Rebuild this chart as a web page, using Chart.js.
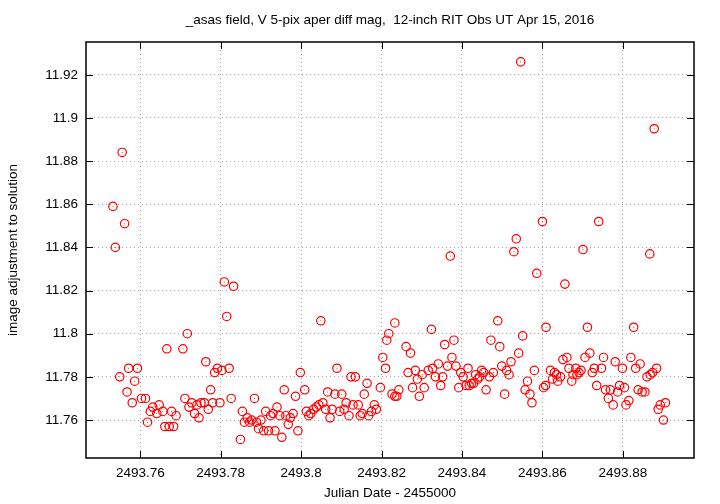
<!DOCTYPE html>
<html>
<head>
<meta charset="utf-8">
<title>asas field diff mag</title>
<script src="https://cdn.jsdelivr.net/npm/chart.js@4.4.1/dist/chart.umd.min.js"></script>
<style>
  html, body { margin: 0; padding: 0; background: #fff; }
  canvas { display: block; }
</style>
</head>
<body>
<canvas id="magChart" width="720" height="504"></canvas>
<script>
// Julian Date - 2455000
var julianDates = [
  2493.7532, 2493.7538, 2493.7549, 2493.7555, 2493.7561, 2493.7567, 2493.7571, 2493.7580, 2493.7586, 2493.7593,
  2493.7603, 2493.7613, 2493.7618, 2493.7625, 2493.7631, 2493.7641, 2493.7647, 2493.7656, 2493.7661, 2493.7666,
  2493.7672, 2493.7678, 2493.7683, 2493.7689, 2493.7706, 2493.7711, 2493.7717, 2493.7721, 2493.7728, 2493.7735,
  2493.7741, 2493.7746, 2493.7751, 2493.7759, 2493.7763, 2493.7769, 2493.7775, 2493.7780, 2493.7785, 2493.7792,
  2493.7798, 2493.7803, 2493.7809, 2493.7815, 2493.7821, 2493.7826, 2493.7832, 2493.7849, 2493.7854, 2493.7859,
  2493.7866, 2493.7872, 2493.7877, 2493.7884, 2493.7889, 2493.7894, 2493.7900, 2493.7907, 2493.7912, 2493.7919,
  2493.7924, 2493.7930, 2493.7935, 2493.7940, 2493.7947, 2493.7952, 2493.7958, 2493.7962, 2493.7968, 2493.7973,
  2493.7980, 2493.7986, 2493.7992, 2493.7998, 2493.8009, 2493.8013, 2493.8019, 2493.8024, 2493.8031, 2493.8038,
  2493.8044, 2493.8049, 2493.8054, 2493.8061, 2493.8066, 2493.8072, 2493.8077, 2493.8084, 2493.8089, 2493.8096,
  2493.8101, 2493.8107, 2493.8112, 2493.8119, 2493.8124, 2493.8129, 2493.8135, 2493.8142, 2493.8147, 2493.8152,
  2493.8157, 2493.8164, 2493.8168, 2493.8175, 2493.8182, 2493.8187, 2493.8197, 2493.8203, 2493.8210, 2493.8213,
  2493.8218, 2493.8226, 2493.8233, 2493.8233, 2493.8238, 2493.8243, 2493.8261, 2493.8266, 2493.8272, 2493.8277,
  2493.8284, 2493.8289, 2493.8294, 2493.8301, 2493.8306, 2493.8316, 2493.8324, 2493.8327, 2493.8334, 2493.8341,
  2493.8347, 2493.8352, 2493.8357, 2493.8364, 2493.8371, 2493.8375, 2493.8380, 2493.8385, 2493.8392, 2493.8397,
  2493.8403, 2493.8410, 2493.8415, 2493.8418, 2493.8424, 2493.8429, 2493.8434, 2493.8439, 2493.8444, 2493.8449,
  2493.8454, 2493.8460, 2493.8468, 2493.8472, 2493.8478, 2493.8489, 2493.8494, 2493.8499, 2493.8506, 2493.8511,
  2493.8517, 2493.8522, 2493.8529, 2493.8535, 2493.8541, 2493.8546, 2493.8551, 2493.8557, 2493.8563, 2493.8569,
  2493.8574, 2493.8580, 2493.8586, 2493.8600, 2493.8603, 2493.8608, 2493.8609, 2493.8620, 2493.8625, 2493.8630,
  2493.8635, 2493.8638, 2493.8645, 2493.8651, 2493.8656, 2493.8661, 2493.8666, 2493.8673, 2493.8676, 2493.8683,
  2493.8686, 2493.8691, 2493.8696, 2493.8701, 2493.8706, 2493.8712, 2493.8718, 2493.8724, 2493.8729, 2493.8735,
  2493.8740, 2493.8747, 2493.8752, 2493.8757, 2493.8764, 2493.8769, 2493.8776, 2493.8781, 2493.8787, 2493.8792,
  2493.8799, 2493.8804, 2493.8808, 2493.8815, 2493.8820, 2493.8827, 2493.8832, 2493.8838, 2493.8843, 2493.8848,
  2493.8855, 2493.8860, 2493.8867, 2493.8868, 2493.8874, 2493.8878, 2493.8884, 2493.8888, 2493.8893, 2493.8901,
  2493.8906
];

// image adjustment to solution (mag)
var imageAdjust = [
  11.859, 11.840, 11.780, 11.884, 11.851, 11.773, 11.784, 11.768, 11.778, 11.784,
  11.770, 11.770, 11.759, 11.764, 11.766, 11.763, 11.767, 11.764, 11.757, 11.793,
  11.757, 11.764, 11.757, 11.762, 11.793, 11.770, 11.800, 11.766, 11.768, 11.763,
  11.767, 11.761, 11.768, 11.768, 11.787, 11.765, 11.774, 11.768, 11.782, 11.784,
  11.768, 11.783, 11.824, 11.808, 11.784, 11.770, 11.822, 11.751, 11.764, 11.759,
  11.761, 11.759, 11.760, 11.770, 11.759, 11.756, 11.760, 11.755, 11.764, 11.755,
  11.762, 11.763, 11.755, 11.766, 11.762, 11.752, 11.774, 11.762, 11.758, 11.761,
  11.763, 11.771, 11.755, 11.782, 11.774, 11.764, 11.762, 11.763, 11.765, 11.766,
  11.767, 11.806, 11.768, 11.765, 11.773, 11.761, 11.765, 11.772, 11.784, 11.764,
  11.772, 11.765, 11.768, 11.762, 11.780, 11.767, 11.780, 11.767, 11.762, 11.763,
  11.772, 11.777, 11.762, 11.764, 11.767, 11.765, 11.775, 11.789, 11.784, 11.797,
  11.800, 11.772, 11.805, 11.771, 11.771, 11.774, 11.794, 11.782, 11.791, 11.775,
  11.783, 11.779, 11.771, 11.781, 11.775, 11.783, 11.802, 11.784, 11.780, 11.786,
  11.776, 11.780, 11.795, 11.785, 11.836, 11.789, 11.797, 11.785, 11.775, 11.782,
  11.780, 11.776, 11.784, 11.776, 11.777, 11.777, 11.781, 11.779, 11.780, 11.783,
  11.782, 11.774, 11.780, 11.797, 11.782, 11.806, 11.794, 11.785, 11.772, 11.783,
  11.781, 11.787, 11.838, 11.844, 11.791, 11.926, 11.799, 11.774, 11.778, 11.772,
  11.768, 11.783, 11.828, 11.852, 11.775, 11.776, 11.803, 11.783, 11.779, 11.782,
  11.781, 11.778, 11.780, 11.788, 11.823, 11.789, 11.784, 11.778, 11.781, 11.784,
  11.781, 11.782, 11.783, 11.839, 11.789, 11.803, 11.791, 11.782, 11.784, 11.776,
  11.852, 11.784, 11.789, 11.774, 11.770, 11.774, 11.767, 11.787, 11.773, 11.776,
  11.784, 11.775, 11.767, 11.769, 11.789, 11.803, 11.784, 11.774, 11.786, 11.773,
  11.773, 11.780, 11.837, 11.781, 11.782, 11.895, 11.784, 11.765, 11.767, 11.760,
  11.768
];

var xTicks = [2493.76, 2493.78, 2493.80, 2493.82, 2493.84, 2493.86, 2493.88];
var yTicks = [11.76, 11.78, 11.80, 11.82, 11.84, 11.86, 11.88, 11.90, 11.92];

var chartTitle = '_asas field, V 5-pix aper diff mag,  12-inch RIT Obs UT Apr 15, 2016';

var points = julianDates.map(function(jd, i) {
  return { x: jd, y: imageAdjust[i] };
});

function fmt(v) {
  return String(parseFloat(v.toFixed(2)));
}

// gnuplot-style frame, inward tics and the title over the plot area
var gnuplotFrame = {
  id: 'gnuplotFrame',
  afterDraw: function(chart) {
    var ctx = chart.ctx;
    var a = chart.chartArea;
    var xs = chart.scales.x, ys = chart.scales.y;
    ctx.save();
    ctx.strokeStyle = '#000';
    ctx.lineWidth = 1;
    ctx.beginPath();
    xTicks.forEach(function(v) {
      var px = Math.round(xs.getPixelForValue(v)) + 0.5;
      ctx.moveTo(px, a.bottom); ctx.lineTo(px, a.bottom - 7);
      ctx.moveTo(px, a.top); ctx.lineTo(px, a.top + 7);
    });
    yTicks.forEach(function(v) {
      var py = Math.round(ys.getPixelForValue(v)) + 0.5;
      ctx.moveTo(a.left, py); ctx.lineTo(a.left + 7, py);
      ctx.moveTo(a.right, py); ctx.lineTo(a.right - 7, py);
    });
    ctx.stroke();
    ctx.lineWidth = 1.5;
    ctx.strokeRect(a.left, a.top, a.right - a.left, a.bottom - a.top);
    ctx.fillStyle = '#000';
    ctx.font = '13.5px "Liberation Sans", Arial, sans-serif';
    ctx.textAlign = 'center';
    ctx.textBaseline = 'middle';
    ctx.fillText(chartTitle, (a.left + a.right) / 2, 20);
    ctx.restore();
  }
};

Chart.defaults.font.family = '"Liberation Sans", Arial, sans-serif';
Chart.defaults.font.size = 13.5;
Chart.defaults.color = '#000';

var ctx = document.getElementById('magChart').getContext('2d');
new Chart(ctx, {
  type: 'scatter',
  data: {
    datasets: [{
      label: 'diff mag',
      data: points,
      pointStyle: 'circle',
      pointRadius: 4.2,
      pointBorderWidth: 1.2,
      borderColor: '#ff0000',
      backgroundColor: 'rgba(0,0,0,0)'
    }, {
      label: 'centers',
      data: points,
      pointStyle: 'circle',
      pointRadius: 0.5,
      pointBorderWidth: 0,
      borderColor: '#ff0000',
      backgroundColor: '#ff0000'
    }]
  },
  options: {
    responsive: false,
    animation: false,
    layout: { padding: { top: 42, right: 26, left: 0, bottom: 0 } },
    plugins: {
      legend: { display: false },
      tooltip: { enabled: false }
    },
    scales: {
      x: {
        type: 'linear',
        min: 2493.7465,
        max: 2493.8977,
        afterFit: function(scale) { scale.height = 46; },
        afterBuildTicks: function(scale) {
          scale.ticks = xTicks.map(function(v) { return { value: v }; });
        },
        ticks: {
          padding: 7,
          maxRotation: 0,
          callback: function(value) { return fmt(value); }
        },
        grid: {
          color: '#a8a8a8',
          lineWidth: 1,
          drawTicks: false
        },
        border: { display: false, dash: [1, 3] },
        title: {
          display: true,
          text: 'Julian Date - 2455000',
          padding: { top: 0, bottom: 3 }
        }
      },
      y: {
        type: 'linear',
        min: 11.7424,
        max: 11.9352,
        afterFit: function(scale) { scale.width = 86; },
        afterBuildTicks: function(scale) {
          scale.ticks = yTicks.map(function(v) { return { value: v }; });
        },
        ticks: {
          padding: 8,
          callback: function(value) { return fmt(value); }
        },
        grid: {
          color: '#a8a8a8',
          lineWidth: 1,
          drawTicks: false
        },
        border: { display: false, dash: [1, 3] },
        title: {
          display: true,
          text: 'image adjustment to solution',
          padding: { top: 5, bottom: 0 }
        }
      }
    }
  },
  plugins: [gnuplotFrame]
});
</script>
</body>
</html>
